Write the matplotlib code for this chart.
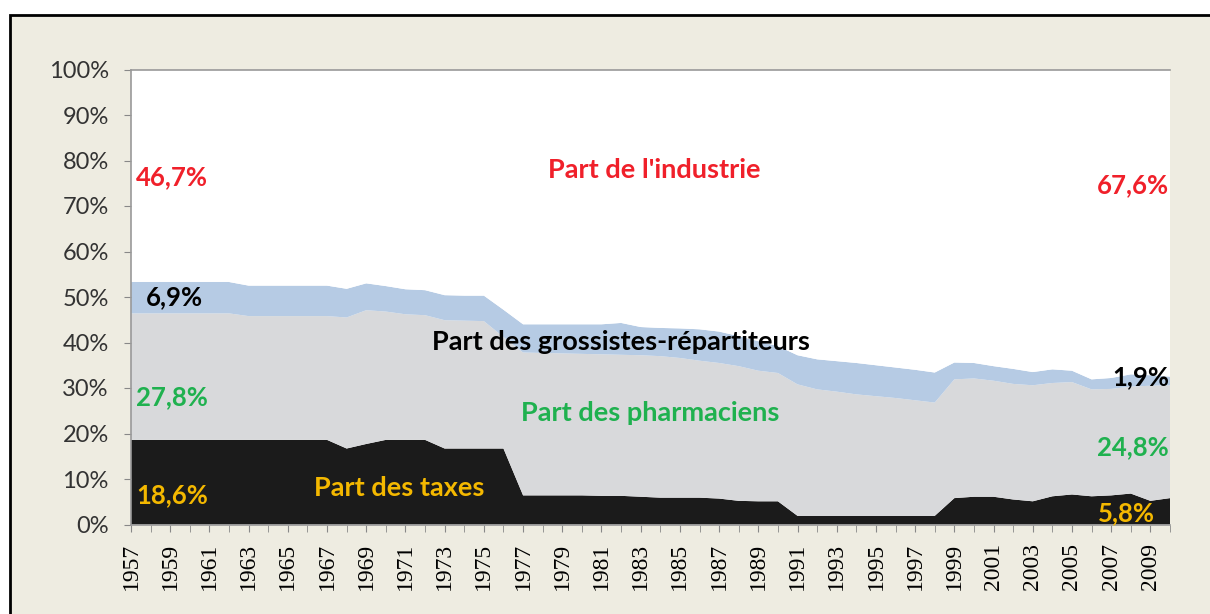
import numpy as np
import matplotlib.pyplot as plt
from matplotlib.patches import Rectangle

years = np.arange(1957, 2011)

taxes = [18.6] * 11 + [16.7, 17.7, 18.6, 18.6, 18.6, 16.7, 16.7, 16.7, 16.7,
         6.4, 6.4, 6.4, 6.4, 6.3, 6.3, 6.1, 5.9, 5.9, 5.9, 5.7, 5.2, 5.1, 5.1,
         1.9, 1.9, 1.9, 1.9, 1.9, 1.9, 1.9, 1.9,
         5.8, 6.1, 6.1, 5.5, 5.1, 6.2, 6.6, 6.2, 6.4, 6.8, 5.2, 5.8]

pharmaciens = [27.8] * 6 + [27.2] * 5 + [28.8, 29.4, 28.2, 27.6, 27.4, 28.2, 28.1, 28.0, 24.5,
               31.4, 31.3, 31.2, 31.1, 31.1, 31.0, 31.1, 31.1, 30.7, 30.1, 29.8, 29.6, 28.7, 28.2,
               28.9, 27.8, 27.3, 26.7, 26.3, 25.9, 25.4, 24.9,
               26.1, 26.0, 25.5, 25.4, 25.5, 24.9, 24.7, 23.5, 23.4, 23.5, 25.3, 24.8]

grossistes = [6.9] * 6 + [6.7] * 5 + [6.3, 5.9, 5.6, 5.5, 5.5, 5.5, 5.5, 5.6, 6.0,
              6.2, 6.3, 6.4, 6.5, 6.6, 7.0, 6.2, 6.2, 6.5, 6.9, 6.9, 6.6, 6.5, 5.9,
              6.4, 6.6, 6.7, 6.9, 6.8, 6.7, 6.7, 6.6,
              3.7, 3.4, 3.2, 3.3, 2.9, 3.0, 2.5, 2.2, 2.4, 2.7, 2.3, 1.9]

industrie = [46.7] * 6 + [47.5] * 5 + [48.2, 47.0, 47.6, 48.3, 48.5, 49.6, 49.7, 49.7, 52.8,
             56.0, 56.0, 56.0, 56.0, 56.0, 55.7, 56.6, 56.8, 56.9, 57.1, 57.6, 58.6, 59.7, 60.8,
             62.8, 63.7, 64.1, 64.5, 65.0, 65.5, 66.0, 66.6,
             64.4, 64.5, 65.2, 65.8, 66.5, 65.9, 66.2, 68.1, 67.8, 67.0, 67.2, 67.5]

colors = ['#1b1b1b', '#d8d9db', '#b6cbe4', '#ffffff']
BG = '#eeece1'
txt_font = ['Lato', 'DejaVu Sans']

fig = plt.figure(figsize=(12.1, 6.14), dpi=100, facecolor='white')
fig.patches.append(Rectangle((10 / 1210, -0.05), 1.1, 1 - 15 / 614 + 0.05,
                             transform=fig.transFigure, facecolor=BG,
                             edgecolor='black', linewidth=2, zorder=-10))

ax = fig.add_axes([131 / 1210, 1 - 524.5 / 614, (1170 - 131) / 1210, (524.5 - 69.5) / 614])
ax.set_zorder(1)
ax.set_facecolor('white')
ax.stackplot(years, taxes, pharmaciens, grossistes, industrie, colors=colors, linewidth=0)

ax.set_xlim(1957, 2010)
ax.set_ylim(0, 100)
ax.set_yticks(np.arange(0, 101, 10))
ax.set_yticklabels([f'{v}%' for v in range(0, 101, 10)], fontsize=17,
                   color='#333333', family=txt_font)
ax.set_xticks(years, minor=True)
ax.set_xticks(years[::2])
ax.set_xticklabels([str(y) for y in years[::2]], rotation=90, fontsize=17,
                   family=['Liberation Serif'])
ax.tick_params(axis='x', which='both', length=5, color='#888888', direction='out', pad=8)
ax.tick_params(axis='y', length=5, color='#888888', pad=11)

for side in ['left', 'bottom', 'top']:
    ax.spines[side].set_color('#999999')
    ax.spines[side].set_linewidth(1.2)
ax.spines['right'].set_visible(False)

red, green, yellow = '#f0202a', '#1fb14f', '#f4b800'
labels = [
    (1959.1, 76.3, '46,7%', red, 18.5),
    (1983.7, 78.0, "Part de l'industrie", red, 19.5),
    (2008.1, 74.5, '67,6%', red, 18.5),
    (1959.2, 49.9, '6,9%', 'black', 18.5),
    (1982.0, 40.2, 'Part des grossistes-répartiteurs', 'black', 19.5),
    (1959.1, 27.9, '27,8%', green, 18.5),
    (1983.5, 24.6, 'Part des pharmaciens', green, 19.5),
    (2008.5, 32.3, '1,9%', 'black', 18.5),
    (2008.1, 17.1, '24,8%', green, 18.5),
    (1959.1, 6.4, '18,6%', yellow, 18.5),
    (1970.7, 8.1, 'Part des taxes', yellow, 19.5),
    (2007.8, 2.6, '5,8%', yellow, 18.5),
]
for x, y, s, c, fs in labels:
    ax.text(x, y, s, color=c, fontsize=fs, fontweight='bold', family=txt_font,
            ha='center', va='center')

fig.savefig('out.png', dpi=100, facecolor=fig.get_facecolor())
